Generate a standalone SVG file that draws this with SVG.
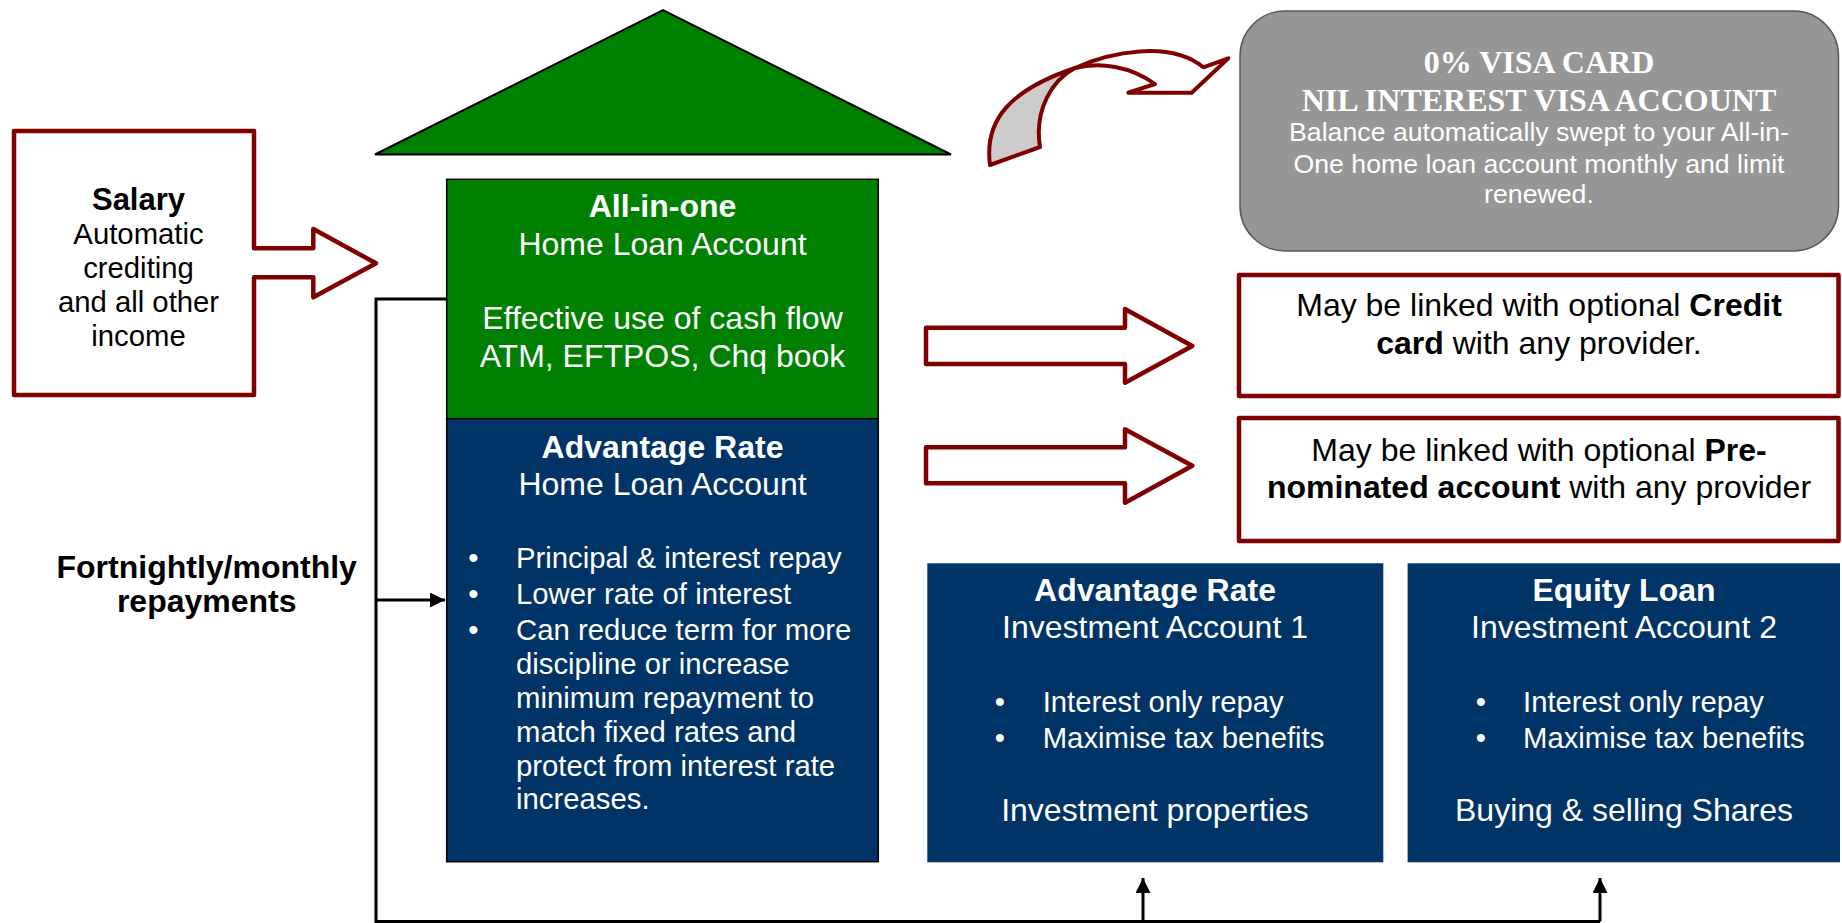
<svg xmlns="http://www.w3.org/2000/svg" width="1842" height="923" viewBox="0 0 1842 923">
<defs>
<style>
text{font-family:"Liberation Sans",Arial,sans-serif;}
.w{fill:#ffffff;}
.k{fill:#000000;}
.c{text-anchor:middle;}
.b{font-weight:bold;}
.f32{font-size:32px;}
.f29{font-size:29.3px;}
.f27{font-size:26.7px;}
.serif{font-family:"Liberation Serif","Times New Roman",serif;font-weight:bold;font-size:32px;}
.redout{fill:#ffffff;stroke:#800000;stroke-width:4.5;stroke-linejoin:round;}
.conn{fill:none;stroke:#000000;stroke-width:3;}
.navy{fill:#003366;}
</style>
<marker id="ah" viewBox="0 0 10 10" refX="10" refY="5" markerWidth="5" markerHeight="5" markerUnits="strokeWidth" orient="auto">
<path d="M0,0 L10,5 L0,10 Z" fill="#000000"/>
</marker>
</defs>

<g id="connectors">
<path class="conn" d="M446,299 H376 V921.5 H1600"/>
<path class="conn" d="M376,600 H445" marker-end="url(#ah)"/>
<path class="conn" d="M1143,921.5 V878" marker-end="url(#ah)"/>
<path class="conn" d="M1600,921.5 V878" marker-end="url(#ah)"/>
<path id="arrow-credit" class="redout" d="M926,327.7 H1125 V309 L1192.3,346 L1125,382.7 V364 H926 Z"/>
<path id="arrow-prenom" class="redout" d="M926,447.3 H1125 V429.3 L1192.3,465.7 L1125,502.7 V483.3 H926 Z"/>
<g id="curved-arrow" stroke="#800000" stroke-width="4" stroke-linejoin="round">
<path fill="#cccccc" d="M990,165 C984,120 1010,90 1075,68 C1052,80 1034,110 1040,147 Z"/>
<path fill="#ffffff" d="M1075,68 C1110,52 1170,40 1203.3,67.3 L1228.3,58.3 L1191.7,92.7 L1128.3,92.7 L1155,84 C1130,66 1100,62 1075,68 Z"/>
</g>
</g>

<g id="roof">
<polygon points="375,154.5 663,10 951,154.5" fill="#008000" stroke="#000000" stroke-width="2"/>
</g>

<g id="salary">
<path class="redout" d="M14,131 H254 V248.3 H313.3 V229 L376,263.3 L313.3,297.3 V277.3 H254 V395 H14 Z"/>
<text class="k c b" x="138.5" y="210" font-size="31">Salary</text>
<text class="k c f29" x="138.5" y="244">Automatic</text>
<text class="k c f29" x="138.5" y="277.5">crediting</text>
<text class="k c f29" x="138.5" y="312">and all other</text>
<text class="k c f29" x="138.5" y="345.5">income</text>
</g>

<g id="repayments-label">
<text class="k c b f32" x="206.7" y="578">Fortnightly/monthly</text>
<text class="k c b f32" x="206.7" y="611.5">repayments</text>
</g>

<g id="all-in-one">
<rect x="446.7" y="179.3" width="431.6" height="239.4" fill="#008000" stroke="#000000" stroke-width="1.5"/>
<text class="w c b f32" x="662.5" y="216.7">All-in-one</text>
<text class="w c f32" x="662.5" y="255">Home Loan Account</text>
<text class="w c f32" x="662.5" y="329.3">Effective use of cash flow</text>
<text class="w c f32" x="662.5" y="366.7">ATM, EFTPOS, Chq book</text>
</g>

<g id="advantage-home">
<rect x="446.7" y="418.7" width="431.6" height="443" fill="#003366" stroke="#000000" stroke-width="1.5"/>
<text class="w c b f32" x="662.5" y="458.3">Advantage Rate</text>
<text class="w c f32" x="662.5" y="495">Home Loan Account</text>
<g class="w f29">
<text class="c" x="473.3" y="568.3">•</text>
<text class="c" x="473.3" y="604.3">•</text>
<text class="c" x="473.3" y="640">•</text>
<text x="516" y="568.3">Principal &amp; interest repay</text>
<text x="516" y="604.3">Lower rate of interest</text>
<text x="516" y="640">Can reduce term for more</text>
<text x="516" y="674.3">discipline or increase</text>
<text x="516" y="708.3">minimum repayment to</text>
<text x="516" y="741.7">match fixed rates and</text>
<text x="516" y="775.7">protect from interest rate</text>
<text x="516" y="809.3">increases.</text>
</g>
</g>

<g id="visa">
<rect x="1240" y="11" width="598.5" height="240" rx="45" ry="45" fill="#969696" stroke="#595959" stroke-width="1.5"/>
<text class="w c serif" x="1539" y="73.3">0% VISA CARD</text>
<text class="w c serif" x="1539" y="110.7">NIL INTEREST VISA ACCOUNT</text>
<text class="w c f27" x="1539" y="140.7">Balance automatically swept to your All-in-</text>
<text class="w c f27" x="1539" y="173">One home loan account monthly and limit</text>
<text class="w c f27" x="1539" y="203.3">renewed.</text>
</g>

<g id="credit-card">
<rect class="redout" x="1239" y="275" width="599.5" height="121"/>
<text class="k c f32" x="1539" y="316">May be linked with optional <tspan class="b">Credit</tspan></text>
<text class="k c f32" x="1539" y="353.6"><tspan class="b">card</tspan> with any provider.</text>
</g>

<g id="pre-nominated">
<rect class="redout" x="1239" y="418" width="599.5" height="123"/>
<text class="k c f32" x="1539" y="460.7">May be linked with optional <tspan class="b">Pre-</tspan></text>
<text class="k c f32" x="1539" y="498.2"><tspan class="b">nominated account</tspan> with any provider</text>
</g>

<g id="investment-1">
<rect class="navy" x="927.3" y="563.3" width="456" height="299"/>
<text class="w c b f32" x="1155" y="600.7">Advantage Rate</text>
<text class="w c f32" x="1155" y="638.3">Investment Account 1</text>
<text class="w c f29" x="1000" y="711.7">•</text>
<text class="w c f29" x="1000" y="747.7">•</text>
<text class="w f29" x="1042.7" y="711.7">Interest only repay</text>
<text class="w f29" x="1042.7" y="747.7">Maximise tax benefits</text>
<text class="w c f32" x="1155" y="820.7">Investment properties</text>
</g>

<g id="investment-2">
<rect class="navy" x="1407.6" y="563.3" width="432.4" height="299"/>
<text class="w c b f32" x="1624" y="600.7">Equity Loan</text>
<text class="w c f32" x="1624" y="638.3">Investment Account 2</text>
<text class="w c f29" x="1481" y="711.7">•</text>
<text class="w c f29" x="1481" y="747.7">•</text>
<text class="w f29" x="1523" y="711.7">Interest only repay</text>
<text class="w f29" x="1523" y="747.7">Maximise tax benefits</text>
<text class="w c f32" x="1624" y="820.7">Buying &amp; selling Shares</text>
</g>
</svg>
